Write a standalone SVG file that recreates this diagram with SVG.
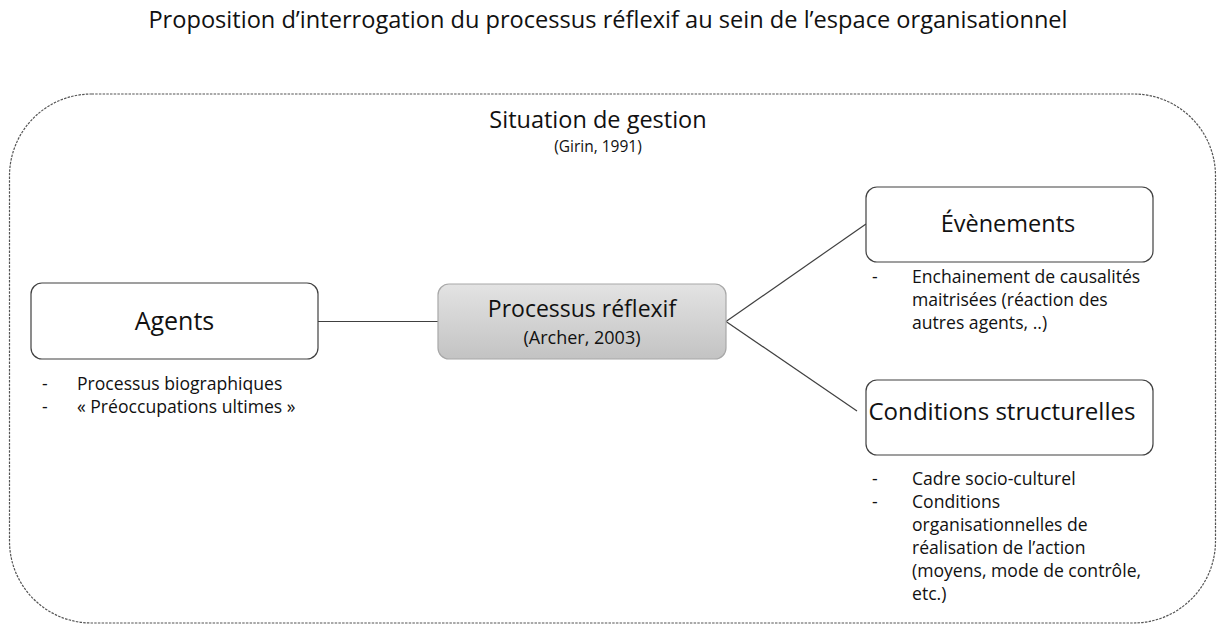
<svg xmlns="http://www.w3.org/2000/svg" width="1217" height="627" viewBox="0 0 1217 627">
<defs>
<linearGradient id="g" x1="0" y1="0" x2="0" y2="1">
<stop offset="0" stop-color="#e3e3e3"/>
<stop offset="1" stop-color="#c3c3c3"/>
</linearGradient>
<style>
text{font-family:"Open Sans","Noto Sans",sans-serif;fill:#111}
.box{fill:#fff;stroke:#404040;stroke-width:1.2}
.h{font-size:23.5px;text-anchor:middle}
.b{font-size:17.6px}
.c{stroke:#404040;stroke-width:1.2;fill:none}
</style>
</defs>
<rect width="1217" height="627" fill="#fff"/>
<text x="608" y="28" text-anchor="middle" style="font-size:23.6px">Proposition d’interrogation du processus réflexif au sein de l’espace organisationnel</text>
<g id="frame">
<rect x="9.5" y="94" width="1206" height="529" rx="82" ry="82" fill="none" stroke="#555" stroke-width="1.2" stroke-dasharray="2.5 1.2"/>
<text x="598" y="128" class="h" style="font-size:23.5px">Situation de gestion</text>
<text x="598" y="152" text-anchor="middle" style="font-size:15.5px">(Girin, 1991)</text>
</g>
<g id="connectors">
<line class="c" x1="318" y1="321.5" x2="438" y2="321.5"/>
<line class="c" x1="726" y1="321.5" x2="866" y2="224"/>
<line class="c" x1="726" y1="321.5" x2="857" y2="411"/>
</g>
<g id="agents">
<rect class="box" x="31" y="283" width="287" height="76" rx="11"/>
<text x="174.5" y="330" class="h" style="font-size:25px">Agents</text>
<text x="42" y="390" class="b">-</text><text x="77" y="390" class="b">Processus biographiques</text>
<text x="42" y="413" class="b">-</text><text x="77" y="413" class="b">« Préoccupations ultimes »</text>
</g>
<g id="processus">
<rect x="438" y="284" width="288" height="75" rx="11" fill="url(#g)" stroke="#a8a8a8" stroke-width="1.2"/>
<text x="582" y="317" class="h" style="font-size:23px">Processus réflexif</text>
<text x="582" y="344" text-anchor="middle" style="font-size:18px">(Archer, 2003)</text>
</g>
<g id="evenements">
<rect class="box" x="866" y="187" width="287" height="75" rx="11"/>
<text x="1008" y="232" class="h" style="font-size:23.5px">Évènements</text>
<text x="872" y="283" class="b">-</text><text x="912" y="283" class="b">Enchainement de causalités</text>
<text x="912" y="306" class="b">maitrisées (réaction des</text>
<text x="912" y="329" class="b">autres agents, ..)</text>
</g>
<g id="conditions">
<rect class="box" x="866" y="380" width="287" height="75" rx="11"/>
<text x="1002" y="420" class="h" style="font-size:24.1px">Conditions structurelles</text>
<text x="872" y="485" class="b">-</text><text x="912" y="485" class="b">Cadre socio-culturel</text>
<text x="872" y="508" class="b">-</text><text x="912" y="508" class="b">Conditions</text>
<text x="912" y="531" class="b">organisationnelles de</text>
<text x="912" y="554" class="b">réalisation de l’action</text>
<text x="912" y="577" class="b">(moyens, mode de contrôle,</text>
<text x="912" y="600" class="b">etc.)</text>
</g>
</svg>
